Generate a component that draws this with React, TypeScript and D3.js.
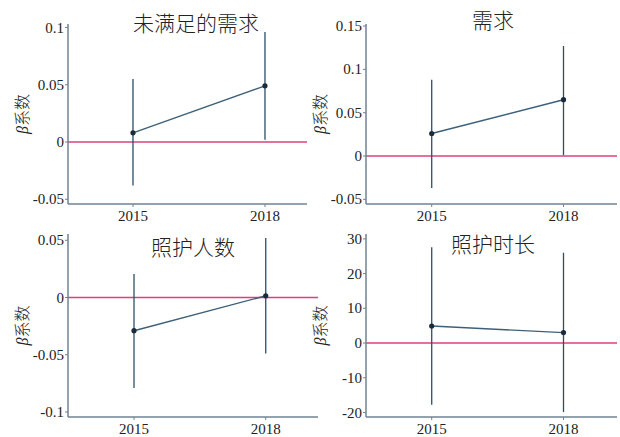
import React from "react";
import * as d3 from "d3";

const years = [2015, 2018];
const titles = ["未满足的需求", "需求", "照护人数", "照护时长"];

const unmetEst = [0.008, 0.049];
const unmetLo = [-0.038, 0.002];
const unmetHi = [0.055, 0.096];

const demandEst = [0.026, 0.065];
const demandLo = [-0.037, 0.001];
const demandHi = [0.088, 0.127];

const careNumEst = [-0.029, 0.0015];
const careNumLo = [-0.079, -0.049];
const careNumHi = [0.0205, 0.052];

const careDurEst = [4.9, 3.0];
const careDurLo = [-17.8, -19.9];
const careDurHi = [27.6, 26.0];

const ticks1 = [-0.05, 0, 0.05, 0.1];
const ticks2 = [-0.05, 0, 0.05, 0.1, 0.15];
const ticks3 = [-0.1, -0.05, 0, 0.05];
const ticks4 = [-20, -10, 0, 10, 20, 30];

const yLabel = "系数";

type Panel = {
  title: string;
  est: number[];
  lo: number[];
  hi: number[];
  ticks: number[];
  yDomain: [number, number];
  left: number;
  right: number;
  top: number;
  bottom: number;
  xDomain: [number, number];
  titleX: number;
  titleY: number;
  labelX: number;
};

const panels: Panel[] = [
  { title: titles[0], est: unmetEst, lo: unmetLo, hi: unmetHi, ticks: ticks1, yDomain: [-0.0541, 0.103], left: 68, right: 307, top: 24, bottom: 204, xDomain: [2013.523, 2018.955], titleX: 196, titleY: 31, labelX: 28 },
  { title: titles[1], est: demandEst, lo: demandLo, hi: demandHi, ticks: ticks2, yDomain: [-0.0554, 0.1524], left: 366, right: 617, top: 24, bottom: 204, xDomain: [2013.504, 2019.218], titleX: 493, titleY: 28, labelX: 326 },
  { title: titles[2], est: careNumEst, lo: careNumLo, hi: careNumHi, ticks: ticks3, yDomain: [-0.1044, 0.0555], left: 68, right: 318, top: 234, bottom: 417, xDomain: [2013.497, 2019.19], titleX: 193, titleY: 255, labelX: 28 },
  { title: titles[3], est: careDurEst, lo: careDurLo, hi: careDurHi, ticks: ticks4, yDomain: [-21.3, 31.4], left: 366, right: 617, top: 234, bottom: 417, xDomain: [2013.504, 2019.218], titleX: 493, titleY: 252, labelX: 326 },
];

const axisColor = "#6f8391";
const ciColor = "#2d4f66";
const lineColor = "#3d6079";
const pointColor = "#1c2b3a";
const zeroColor = "#de3f7c";
const serif = "'Liberation Serif', 'Times New Roman', serif";
const cjk = "'Noto Sans CJK SC', sans-serif";

function fmt(v: number) {
  return String(+v.toFixed(4));
}

function PanelView({ p }: { p: Panel }) {
  const x = d3.scaleLinear().domain(p.xDomain).range([p.left, p.right]);
  const y = d3.scaleLinear().domain(p.yDomain).range([p.bottom, p.top]);
  const line = d3
    .line<number>()
    .x((_, i) => x(years[i]))
    .y((d) => y(d));
  const midY = (p.top + p.bottom) / 2;
  return (
    <g>
      <line x1={p.left} x2={p.right} y1={y(0)} y2={y(0)} stroke={zeroColor} strokeWidth={1.6} />
      {years.map((yr, i) => (
        <line key={"ci" + yr} x1={x(yr)} x2={x(yr)} y1={y(p.lo[i])} y2={y(p.hi[i])} stroke={ciColor} strokeWidth={1.3} />
      ))}
      <path d={line(p.est) || ""} fill="none" stroke={lineColor} strokeWidth={1.4} />
      {years.map((yr, i) => (
        <circle key={"pt" + yr} cx={x(yr)} cy={y(p.est[i])} r={2.6} fill={pointColor} />
      ))}
      <line x1={p.left} x2={p.left} y1={p.top} y2={p.bottom} stroke={axisColor} strokeWidth={1.5} />
      <line x1={p.left} x2={p.right} y1={p.bottom} y2={p.bottom} stroke={axisColor} strokeWidth={1.5} />
      {p.ticks.map((t) => (
        <g key={"yt" + t}>
          <line x1={p.left - 3} x2={p.left} y1={y(t)} y2={y(t)} stroke={axisColor} strokeWidth={1} />
          <text x={p.left - 4} y={y(t)} dy="0.34em" textAnchor="end" fontFamily={serif} fontSize={15} fill="#222">
            {fmt(t)}
          </text>
        </g>
      ))}
      {years.map((yr) => (
        <g key={"xt" + yr}>
          <line x1={x(yr)} x2={x(yr)} y1={p.bottom} y2={p.bottom + 3} stroke={axisColor} strokeWidth={1} />
          <text x={x(yr)} y={p.bottom + 16.5} textAnchor="middle" fontFamily={serif} fontSize={15} fill="#222">
            {yr}
          </text>
        </g>
      ))}
      <text x={p.titleX} y={p.titleY} textAnchor="middle" fontFamily={cjk} fontWeight={300} fontSize={21} fill="#222">
        {p.title}
      </text>
      <text
        transform={`translate(${p.labelX},${midY}) rotate(-90)`}
        textAnchor="middle"
        fontSize={16}
        fill="#222"
      >
        <tspan fontFamily={serif} fontStyle="italic">β</tspan>
        <tspan fontFamily={cjk} fontWeight={300}>{yLabel}</tspan>
      </text>
    </g>
  );
}

export default function App() {
  return (
    <svg width={620} height={437} style={{ display: "block", position: "absolute", left: 0, top: 0, background: "#fff" }}>
      <rect width={620} height={437} fill="#fff" />
      {panels.map((p) => (
        <PanelView key={p.title} p={p} />
      ))}
    </svg>
  );
}
